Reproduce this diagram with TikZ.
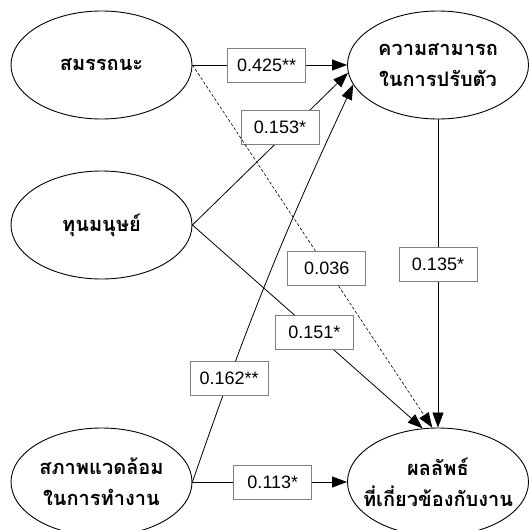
\documentclass[tikz,border=0pt]{standalone}
\usepackage{fontspec}
\usetikzlibrary{arrows.meta,shapes.geometric}
\newfontfamily\thaifont[Script=Thai]{Loma}
\newfontfamily\numfont{Liberation Sans}
% zero-width centred line, so the ellipse size is set only by its minimum size
\newcommand{\zw}[1]{\makebox[0pt][c]{#1}}
\tikzset{
  construct/.style={draw, line width=0.9pt, ellipse, minimum width=181pt,
    minimum height=108pt, inner sep=0pt, align=center,
    font=\thaifont\bfseries\fontsize{20}{31}\selectfont},
  coef/.style={draw=black!50, line width=0.9pt, fill=white, minimum width=78pt,
    minimum height=34pt, inner sep=0pt, font=\numfont\fontsize{18}{18}\selectfont},
  path/.style={line width=0.8pt, -{Triangle[length=15pt,width=11pt]}},
}
\begin{document}
\begin{tikzpicture}[x=1pt,y=-1pt]
\useasboundingbox (0,0) rectangle (528,530);

% latent constructs
\node[construct] (comp)    at (101.5,65)  {\zw{สมรรถนะ}};
\node[construct] (human)   at (101.5,225) {\zw{ทุนมนุษย์}};
\node[construct] (env)     at (101.5,482) {\zw{สภาพแวดล้อม}\\\zw{ในการทำงาน}};
\node[construct] (adapt)   at (438,65)    {\zw{ความสามารถ}\\\zw{ในการปรับตัว}};
\node[construct] (outcome) at (438,482)   {\zw{ผลลัพธ์}\\\zw{ที่เกี่ยวข้องกับงาน}};

% structural paths with coefficients
\draw[path] (comp.east) -- node[coef, pos=0.48] (c1) {0.425**} (adapt.west);
\draw[path] (human.east) -- node[coef, pos=0.64, xshift=-12pt] (c2) {0.153*} (adapt.185);
\draw[path] (env.east) to[bend left=3] node[coef, pos=0.24] (c3) {0.162**} (adapt.193.5);
\draw[path, densely dashed, line width=0.6pt] (comp.east) -- node[coef, solid, pos=0.56] (c4) {0.036} (outcome.96);
\draw[path] (human.east) -- node[coef, pos=0.53] (c5) {0.151*} (outcome.106);
\draw[path] (adapt.south) -- node[coef, pos=0.47] (c6) {0.135*} (outcome.north);
\draw[path] (env.east) -- node[coef, pos=0.52] (c7) {0.113*} (outcome.west);
\end{tikzpicture}
\end{document}
